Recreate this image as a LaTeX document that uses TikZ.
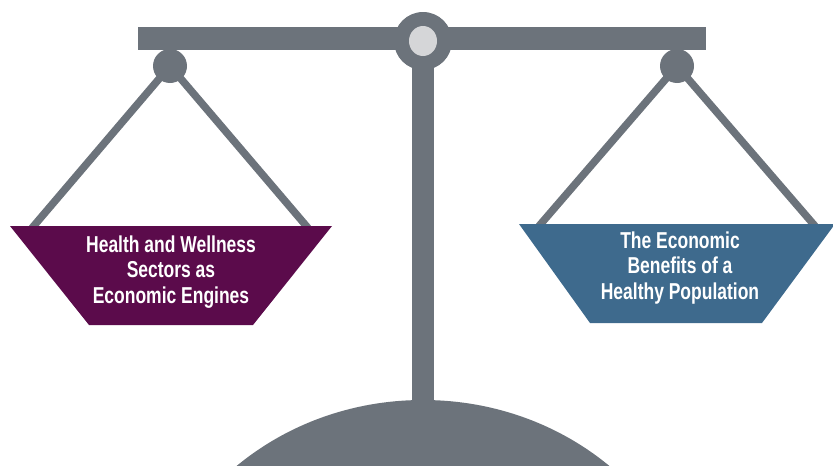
\documentclass[tikz,border=0pt]{standalone}
\usepackage{fontspec}
\usepackage{tikz}
\newfontfamily\panfont[FakeStretch=0.76]{Liberation Sans Bold}
\definecolor{scalegray}{HTML}{6C737B}
\definecolor{pivotgray}{HTML}{D5D6D8}
\definecolor{healthpurple}{HTML}{5B0B4B}
\definecolor{econblue}{HTML}{3E6A8D}

\begin{document}
\begin{tikzpicture}[x=1pt, y=-1pt,
                    hanger/.style={draw=scalegray, line width=7.5pt},
                    knob/.style={circle, fill=scalegray, minimum size=34pt, inner sep=0pt},
                    pantext/.style={text=white, align=center,
                                    font=\panfont\fontsize{23}{25.5}\selectfont}]
  \clip (0,0) rectangle (833,466);
  % stand
  \fill[scalegray] (423,660) ellipse [x radius=280pt, y radius=260pt];
  \fill[scalegray] (412,40) rectangle (434,405);
  % hangers
  \node[knob] (lknob) at (170,66) {};
  \node[knob] (rknob) at (677,66) {};
  \coordinate (lpanl) at (32,228);
  \coordinate (lpanr) at (308,228);
  \coordinate (rpanl) at (539,226);
  \coordinate (rpanr) at (815,226);
  \draw[hanger] (lknob.center) -- (lpanl);
  \draw[hanger] (lknob.center) -- (lpanr);
  \draw[hanger] (rknob.center) -- (rpanl);
  \draw[hanger] (rknob.center) -- (rpanr);
  % beam
  \fill[scalegray] (138,27) rectangle (706,50);
  \node[circle, fill=scalegray, minimum size=58pt, inner sep=0pt] (pivot) at (423,41) {};
  \fill[pivotgray] (pivot.center) ellipse [x radius=14pt, y radius=15pt];
  % pans
  \fill[healthpurple] (10,226) -- (332,226) -- (253,325) -- (89,325) -- cycle;
  \fill[econblue] (519,224) -- (835,224) -- (762,323) -- (590,323) -- cycle;
  \node[pantext] (ltext) at (171,272) {Health and Wellness\\Sectors as\\Economic Engines};
  \node[pantext] (rtext) at (680,268) {The Economic\\Benefits of a\\Healthy Population};
\end{tikzpicture}
\end{document}
